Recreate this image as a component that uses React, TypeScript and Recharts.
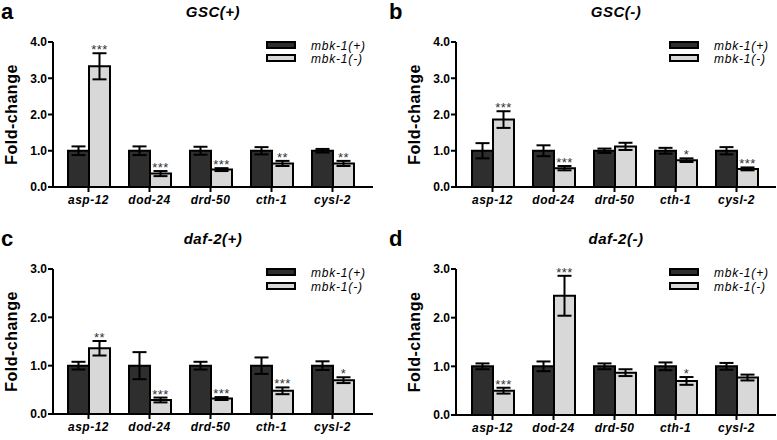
import { Bar, BarChart, ErrorBar, LabelList, ReferenceLine, XAxis, YAxis } from "recharts";

const FONT = '"Liberation Sans", Arial, Helvetica, sans-serif';

const genes = ["asp-12", "dod-24", "drd-50", "cth-1", "cysl-2"];
const seriesNames = ["mbk-1(+)", "mbk-1(-)"];

// a: GSC(+)
const plusA = [1, 1, 1, 1, 1];
const plusErrA = [0.12, 0.12, 0.11, 0.1, 0.05];
const minusA = [3.33, 0.37, 0.48, 0.65, 0.65];
const minusErrA = [0.36, 0.07, 0.04, 0.07, 0.07];
const sigA = ["***", "***", "***", "**", "**"];

// b: GSC(-)
const plusB = [1, 1, 1, 1, 1];
const plusErrB = [0.21, 0.15, 0.06, 0.08, 0.1];
const minusB = [1.86, 0.52, 1.12, 0.74, 0.5];
const minusErrB = [0.23, 0.06, 0.1, 0.05, 0.04];
const sigB = ["***", "***", "", "*", "***"];

// c: daf-2(+)
const plusC = [1, 1, 1, 1, 1];
const plusErrC = [0.08, 0.28, 0.08, 0.17, 0.09];
const minusC = [1.36, 0.29, 0.32, 0.48, 0.7];
const minusErrC = [0.15, 0.05, 0.03, 0.07, 0.06];
const sigC = ["**", "***", "***", "***", "*"];

// d: daf-2(-)
const plusD = [1, 1, 1, 1, 1];
const plusErrD = [0.06, 0.1, 0.06, 0.08, 0.07];
const minusD = [0.5, 2.45, 0.87, 0.7, 0.77];
const minusErrD = [0.06, 0.41, 0.07, 0.08, 0.06];
const sigD = ["***", "***", "", "*", ""];

const ticks4 = [0, 1, 2, 3, 4];
const ticks3 = [0, 1, 2, 3];
const baseline = 1;

function table(plus: number[], plusErr: number[], minus: number[], minusErr: number[], sig: string[]) {
  return genes.map((g, i) => ({
    gene: g,
    plus: plus[i],
    plusErr: plusErr[i],
    minus: minus[i],
    minusErr: minusErr[i],
    sig: sig[i],
  }));
}

type PanelProps = {
  letter: string;
  title: string;
  data: any[];
  ticks: number[];
  axisX: number;
  plotTop: number;
  axisY: number;
  width: number;
  rightMargin: number;
  padding: { left: number; right: number };
  legendGap: number;
  left: number;
  top: number;
};

function Panel(p: PanelProps) {
  const H = 220;
  const yW = 45;
  const xH = 25;
  const yMax = p.ticks[p.ticks.length - 1];
  const pxPerUnit = (p.axisY - p.plotTop) / yMax;
  const plotRight = p.width - p.rightMargin;
  const lx = p.axisX + 214;
  const margin = { top: p.plotTop, right: p.rightMargin, left: p.axisX - yW, bottom: H - p.axisY - xH };

  const Stars = (props: any) => {
    const { x, y, width, index } = props;
    const d = p.data[index];
    if (!d.sig) return null;
    return (
      <text
        x={x + width / 2}
        y={y - d.minusErr * pxPerUnit + 1}
        textAnchor="middle"
        fontSize={13}
        fill="#333"
        fontFamily={FONT}
        letterSpacing={0.5}
      >
        {d.sig}
      </text>
    );
  };

  return (
    <div style={{ position: "absolute", left: p.left, top: p.top, width: p.width, height: H }}>
      {/* dashed baseline sits behind the bars, so it lives in its own chart underneath */}
      <div style={{ position: "absolute", left: 0, top: 0 }}>
        <BarChart width={p.width} height={H} data={p.data} margin={margin}>
          <XAxis dataKey="gene" height={xH} padding={p.padding} axisLine={false} tickLine={false} tick={false} />
          <YAxis width={yW} domain={[0, yMax]} ticks={p.ticks} axisLine={false} tickLine={false} tick={false} />
          <ReferenceLine y={baseline} stroke="#e8731e" strokeWidth={2.5} strokeDasharray="9 5" />
        </BarChart>
      </div>
      <div style={{ position: "absolute", left: 0, top: 0 }}>
        <BarChart width={p.width} height={H} data={p.data} barSize={21} barGap={0} margin={margin}>
          <XAxis
            dataKey="gene"
            height={xH}
            padding={p.padding}
            axisLine={{ stroke: "#000", strokeWidth: 2 }}
            tickLine={{ stroke: "#000", strokeWidth: 2 }}
            tickSize={5}
            tickMargin={3}
            tick={{ fill: "#000", fontSize: 12, fontWeight: "bold", fontStyle: "italic", fontFamily: FONT, letterSpacing: 0.5 }}
            interval={0}
          />
          <YAxis
            width={yW}
            domain={[0, yMax]}
            ticks={p.ticks}
            allowDataOverflow
            tickFormatter={(v) => v.toFixed(1)}
            axisLine={{ stroke: "#000", strokeWidth: 2 }}
            tickLine={{ stroke: "#000", strokeWidth: 2 }}
            tickSize={5}
            tickMargin={1}
            tick={{ fill: "#000", fontSize: 12, fontWeight: "bold", fontFamily: FONT }}
          />
          <Bar dataKey="plus" fill="#2e2e2e" stroke="#000" strokeWidth={2} isAnimationActive={false}>
            <ErrorBar dataKey="plusErr" width={7} stroke="#000" strokeWidth={2} direction="y" isAnimationActive={false} />
          </Bar>
          <Bar dataKey="minus" fill="#d8d8d8" stroke="#000" strokeWidth={2} isAnimationActive={false}>
            <ErrorBar dataKey="minusErr" width={7} stroke="#000" strokeWidth={2} direction="y" isAnimationActive={false} />
            <LabelList dataKey="sig" content={Stars} />
          </Bar>
        </BarChart>
      </div>
      <svg
        width={p.width}
        height={H}
        style={{ position: "absolute", left: 0, top: 0, pointerEvents: "none" }}
        fontFamily={FONT}
      >
        <text x={1} y={p.plotTop - 23} fontSize={22} fontWeight="bold" fill="#000">
          {p.letter}
        </text>
        <text
          x={(p.axisX + plotRight) / 2}
          y={p.plotTop - 25}
          textAnchor="middle"
          fontSize={15}
          fontWeight="bold"
          fontStyle="italic"
          letterSpacing={0.5}
          fill="#000"
        >
          {p.title}
        </text>
        <text
          transform={`translate(${p.axisX - 42},${(p.plotTop + p.axisY) / 2}) rotate(-90)`}
          textAnchor="middle"
          dominantBaseline="central"
          fontSize={16}
          fontWeight="bold"
          letterSpacing={0.5}
          fill="#000"
        >
          Fold-change
        </text>
        <rect x={lx} y={p.plotTop} width={28} height={6} fill="#2e2e2e" stroke="#000" strokeWidth={2} />
        <rect x={lx} y={p.plotTop + p.legendGap} width={28} height={6} fill="#d8d8d8" stroke="#000" strokeWidth={2} />
        <text x={lx + 44} y={p.plotTop + 8} fontSize={12} fontStyle="italic" letterSpacing={0.8} fill="#000">
          {seriesNames[0]}
        </text>
        <text x={lx + 44} y={p.plotTop + 8 + p.legendGap} fontSize={12} fontStyle="italic" letterSpacing={0.8} fill="#000">
          {seriesNames[1]}
        </text>
      </svg>
    </div>
  );
}

export default function App() {
  return (
    <div style={{ position: "relative", width: 777, height: 440, background: "#fff", fontFamily: FONT }}>
      <style>{"body{margin:0}"}</style>
      <Panel
        letter="a"
        title="GSC(+)"
        data={table(plusA, plusErrA, minusA, minusErrA, sigA)}
        ticks={ticks4}
        axisX={53}
        plotTop={42}
        axisY={187}
        width={388}
        rightMargin={15}
        padding={{ left: 5, right: 10 }}
        legendGap={13}
        left={0}
        top={0}
      />
      <Panel
        letter="b"
        title="GSC(-)"
        data={table(plusB, plusErrB, minusB, minusErrB, sigB)}
        ticks={ticks4}
        axisX={68}
        plotTop={42}
        axisY={187}
        width={389}
        rightMargin={1}
        padding={{ left: 6, right: 9 }}
        legendGap={13}
        left={388}
        top={0}
      />
      <Panel
        letter="c"
        title="daf-2(+)"
        data={table(plusC, plusErrC, minusC, minusErrC, sigC)}
        ticks={ticks3}
        axisX={53}
        plotTop={49}
        axisY={194}
        width={388}
        rightMargin={15}
        padding={{ left: 5, right: 10 }}
        legendGap={14}
        left={0}
        top={220}
      />
      <Panel
        letter="d"
        title="daf-2(-)"
        data={table(plusD, plusErrD, minusD, minusErrD, sigD)}
        ticks={ticks3}
        axisX={68}
        plotTop={49}
        axisY={195}
        width={389}
        rightMargin={1}
        padding={{ left: 6, right: 9 }}
        legendGap={14}
        left={388}
        top={220}
      />
    </div>
  );
}
